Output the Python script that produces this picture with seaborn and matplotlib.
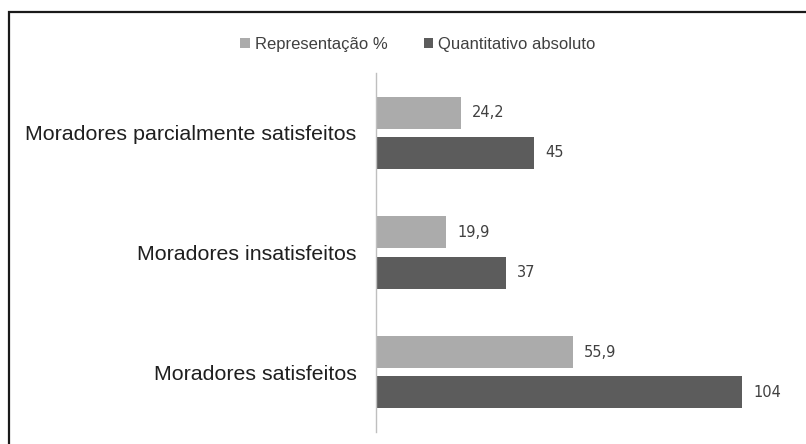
import matplotlib
matplotlib.use("Agg")
import matplotlib.pyplot as plt
import seaborn as sns
import pandas as pd
from matplotlib.patches import Rectangle

categories = ["Moradores parcialmente satisfeitos", "Moradores insatisfeitos", "Moradores satisfeitos"]
series_names = ["Representação %", "Quantitativo absoluto"]
representacao = [24.2, 19.9, 55.9]
quantitativo = [45, 37, 104]
value_labels_rep = ["24,2", "19,9", "55,9"]
value_labels_qt = ["45", "37", "104"]

df = pd.DataFrame({
    "categoria": categories * 2,
    "serie": [series_names[0]] * 3 + [series_names[1]] * 3,
    "valor": representacao + quantitativo,
})

sns.set_theme(style="white")
plt.rcParams["font.family"] = ["Liberation Sans", "DejaVu Sans"]

W, H = 806, 444
fig = plt.figure(figsize=(W / 100, H / 100), dpi=100)
ax = fig.add_axes([376 / W, 1 - 432 / H, (790 - 376) / W, (432 - 73) / H])

palette = {series_names[0]: "#ababab", series_names[1]: "#5c5c5c"}
sns.barplot(data=df, y="categoria", x="valor", hue="serie", order=categories,
            hue_order=series_names, palette=palette, orient="h",
            width=0.67, gap=0.2, ax=ax, legend=True, saturation=1,
            edgecolor="none")

ax.set_xlim(0, 117.6)
ax.set_ylim(2.5, -0.5)
ax.set_xlabel("")
ax.set_ylabel("")
ax.set_xticks([])
for s in ["top", "right", "bottom"]:
    ax.spines[s].set_visible(False)
ax.spines["left"].set_color("#bfbfbf")
ax.spines["left"].set_linewidth(1.0)
ax.tick_params(axis="y", length=0, pad=14, labelsize=15.4, labelcolor="#1f1f1f")

for cont, labels in zip(ax.containers, [value_labels_rep, value_labels_qt]):
    ax.bar_label(cont, labels=labels, padding=8, fontsize=10.5, color="#404040",
                 family=["DejaVu Sans"])

leg = ax.get_legend()
handles = leg.legend_handles
leg.remove()
fig.legend(handles, series_names, loc="center", bbox_to_anchor=(418 / W, 1 - 44 / H),
           ncol=2, frameon=False, fontsize=12, handlelength=0.55, handleheight=0.55,
           handletextpad=0.3, columnspacing=2.2, labelcolor="#404040")

fig.patches.append(Rectangle((9 / W, -0.1), 1.2, 1 - 12 / H + 0.1, transform=fig.transFigure,
                             fill=False, edgecolor="#1a1a1a", linewidth=1.6))

fig.savefig("out.png", dpi=100)
